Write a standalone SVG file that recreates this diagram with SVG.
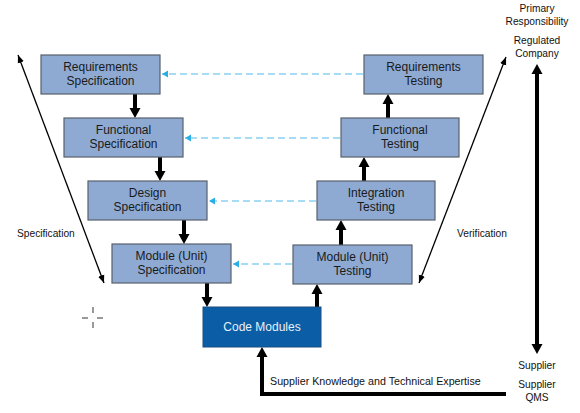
<svg xmlns="http://www.w3.org/2000/svg" width="580" height="413" viewBox="0 0 580 413">
<style>
.box{fill:#8eaad3;stroke:#58606b;stroke-width:1.2}
.code{fill:#0b5ea6;stroke:#1a4f80;stroke-width:1}
.t{font-family:"Liberation Sans",Arial,sans-serif;font-size:12px;fill:#1a1a1a;text-anchor:middle}
.tw{font-family:"Liberation Sans",Arial,sans-serif;font-size:12px;fill:#e8f0fa;text-anchor:middle}
.lbl{font-family:"Liberation Sans",Arial,sans-serif;font-size:10.2px;fill:#111}
.thick{stroke:#000;stroke-width:4;fill:none}
.thin{stroke:#000;stroke-width:1.3;fill:none}
.dash{stroke:#a6dcf5;stroke-width:1.8;stroke-dasharray:7,4;fill:none}
.cross{stroke:#555;stroke-width:1.2}
</style>
<defs>
<marker id="big" markerUnits="userSpaceOnUse" markerWidth="12" markerHeight="12" refX="0" refY="6" orient="auto-start-reverse"><path d="M0,0.5 L10,6 L0,11.5 z" fill="#000"/></marker>
<marker id="sm" markerUnits="userSpaceOnUse" markerWidth="10" markerHeight="8" refX="8" refY="4" orient="auto-start-reverse"><path d="M0,0.8 L8,4 L0,7.2 z" fill="#000"/></marker>
<marker id="blu" markerUnits="userSpaceOnUse" markerWidth="8" markerHeight="8" refX="6" refY="4" orient="auto"><path d="M0,0.5 L6,4 L0,7.5 z" fill="#2aaee6"/></marker>
</defs>
<g id="connectors">
<line class="dash" x1="363" y1="74" x2="162" y2="74" marker-end="url(#blu)"/>
<line class="dash" x1="340" y1="138" x2="185" y2="138" marker-end="url(#blu)"/>
<line class="dash" x1="316" y1="201" x2="209" y2="201" marker-end="url(#blu)"/>
<line class="dash" x1="292" y1="264" x2="233" y2="264" marker-end="url(#blu)"/>
<line class="thick" x1="135" y1="94" x2="135" y2="108" marker-end="url(#big)"/>
<line class="thick" x1="160" y1="157" x2="160" y2="171" marker-end="url(#big)"/>
<line class="thick" x1="184" y1="220" x2="184" y2="234" marker-end="url(#big)"/>
<line class="thick" x1="207" y1="283" x2="207" y2="297" marker-end="url(#big)"/>
<line class="thick" x1="317" y1="307" x2="317" y2="294" marker-end="url(#big)"/>
<line class="thick" x1="341" y1="245" x2="341" y2="230" marker-end="url(#big)"/>
<line class="thick" x1="364" y1="181" x2="364" y2="167" marker-end="url(#big)"/>
<line class="thick" x1="388" y1="118" x2="388" y2="104" marker-end="url(#big)"/>
<line class="thin" x1="18" y1="55" x2="104" y2="283" marker-start="url(#sm)" marker-end="url(#sm)"/>
<line class="thin" x1="506" y1="57" x2="419" y2="283" marker-start="url(#sm)" marker-end="url(#sm)"/>
<path class="thick" d="M537,74 L537,344" marker-start="url(#big)" marker-end="url(#big)"/>
<path class="thick" d="M506,394 L262,394 L262,357" marker-end="url(#big)"/>
</g>
<g id="req-spec"><rect class="box" x="41" y="55" width="119" height="39"/><text class="t" x="100.5" y="71">Requirements</text><text class="t" x="100.5" y="85">Specification</text></g>
<g id="func-spec"><rect class="box" x="64" y="118" width="119" height="39"/><text class="t" x="123.5" y="134">Functional</text><text class="t" x="123.5" y="148">Specification</text></g>
<g id="design-spec"><rect class="box" x="88" y="181" width="119" height="39"/><text class="t" x="147.5" y="197">Design</text><text class="t" x="147.5" y="211">Specification</text></g>
<g id="module-spec"><rect class="box" x="112" y="244" width="119" height="39"/><text class="t" x="171.5" y="260">Module (Unit)</text><text class="t" x="171.5" y="274">Specification</text></g>
<g id="code-modules"><rect class="code" x="203" y="307" width="118" height="40"/><text class="tw" x="262" y="331">Code Modules</text></g>
<g id="module-test"><rect class="box" x="293" y="245" width="119" height="39"/><text class="t" x="352.5" y="261">Module (Unit)</text><text class="t" x="352.5" y="275">Testing</text></g>
<g id="integration-test"><rect class="box" x="317" y="181" width="118" height="39"/><text class="t" x="376" y="197">Integration</text><text class="t" x="376" y="211">Testing</text></g>
<g id="func-test"><rect class="box" x="341" y="118" width="118" height="39"/><text class="t" x="400" y="134">Functional</text><text class="t" x="400" y="148">Testing</text></g>
<g id="req-test"><rect class="box" x="364" y="55" width="119" height="39"/><text class="t" x="423.5" y="71">Requirements</text><text class="t" x="423.5" y="85">Testing</text></g>
<g id="labels">
<text class="lbl" x="17" y="237">Specification</text>
<text class="lbl" x="457" y="237">Verification</text>
<text class="lbl" x="270" y="385" style="font-size:10.7px">Supplier Knowledge and Technical Expertise</text>
<text class="lbl" x="537" y="12" text-anchor="middle">Primary</text>
<text class="lbl" x="537" y="25" text-anchor="middle">Responsibility</text>
<text class="lbl" x="537" y="44" text-anchor="middle">Regulated</text>
<text class="lbl" x="537" y="57" text-anchor="middle">Company</text>
<text class="lbl" x="537" y="369" text-anchor="middle">Supplier</text>
<text class="lbl" x="537" y="388" text-anchor="middle">Supplier</text>
<text class="lbl" x="537" y="401" text-anchor="middle">QMS</text>
</g>
<g id="crosshair">
<line class="cross" x1="82" y1="318" x2="88" y2="318"/>
<line class="cross" x1="97" y1="318" x2="103" y2="318"/>
<line class="cross" x1="93" y1="307" x2="93" y2="313"/>
<line class="cross" x1="93" y1="322" x2="93" y2="328"/>
</g>
</svg>
